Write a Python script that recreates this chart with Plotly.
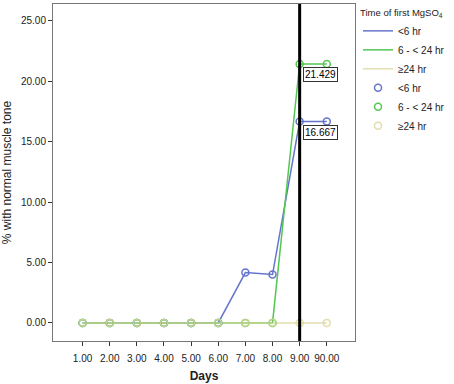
import plotly.graph_objects as go

days = ["1.00", "2.00", "3.00", "4.00", "5.00", "6.00", "7.00", "8.00", "9.00", "90.00"]
lt6 = [0, 0, 0, 0, 0, 0, 4.167, 4.0, 16.667, 16.667]
h6to24 = [0, 0, 0, 0, 0, 0, 0, 0, 21.429, 21.429]
ge24 = [0, 0, 0, 0, 0, 0, 0, 0, 0, 0]
names = ["<6 hr", "6 - < 24 hr", "\u226524 hr"]
colors = ["#6675cc", "#52c852", "#ddd69a"]
opac = [1.0, 1.0, 0.8]
ref_day = "9.00"
labels = [("9.00", 21.429, "21.429"), ("9.00", 16.667, "16.667")]

series = [lt6, h6to24, ge24]
font = "Liberation Sans, Arial, sans-serif"

fig = go.Figure()
for s, n, c, o in zip(series, names, colors, opac):
    fig.add_trace(go.Scatter(x=days, y=s, mode="lines", name=n, opacity=o,
                             line=dict(color=c, width=1.5)))
for s, n, c, o in zip(series, names, colors, opac):
    fig.add_trace(go.Scatter(x=days, y=s, mode="markers", name=n, opacity=o,
                             marker=dict(symbol="circle-open", size=7,
                                         color=c, line=dict(width=1.5, color=c))))

fig.add_shape(type="line", xref="x", yref="paper",
              x0=days.index(ref_day), x1=days.index(ref_day), y0=0, y1=1,
              line=dict(color="black", width=3))

for xd, yv, txt in labels:
    fig.add_annotation(x=days.index(xd), y=yv, text=txt, showarrow=False,
                       xanchor="left", yanchor="top", xshift=3, yshift=-3,
                       font=dict(family=font, size=10, color="black"),
                       bordercolor="#333", borderwidth=1, borderpad=1,
                       bgcolor="white")

fig.update_layout(
    width=454, height=384,
    margin=dict(l=53, r=97, t=4, b=43),
    paper_bgcolor="white", plot_bgcolor="white",
    font=dict(family=font, size=11, color="#222"),
    legend=dict(x=1.01, y=1.0, xanchor="left", yanchor="top",
                title=dict(text="Time of first MgSO<sub>4</sub>", font=dict(size=9.5)),
                font=dict(size=10), tracegroupgap=0, itemwidth=30),
    showlegend=True,
)
fig.update_xaxes(type="category", range=[-1.09, 10.04], automargin=False,
                 showline=True, linecolor="#777", mirror=True,
                 ticks="outside", ticklen=4, tickcolor="#333",
                 ticklabelstandoff=4,
                 showgrid=False, zeroline=False,
                 title=dict(text="<b>Days</b>", font=dict(size=12), standoff=8),
                 tickfont=dict(size=10))
fig.update_yaxes(range=[-1.5, 26.4], tickvals=[0, 5, 10, 15, 20, 25], automargin=False,
                 ticktext=["0.00", "5.00", "10.00", "15.00", "20.00", "25.00"],
                 showline=True, linecolor="#777", mirror=True,
                 ticks="outside", ticklen=4, tickcolor="#333",
                 showgrid=False, zeroline=False,
                 title=dict(text="% with normal muscle tone", font=dict(size=12), standoff=8),
                 tickfont=dict(size=10))

fig.write_html("out.html", config={"displayModeBar": False},
               post_script="document.body.style.margin='0';")
